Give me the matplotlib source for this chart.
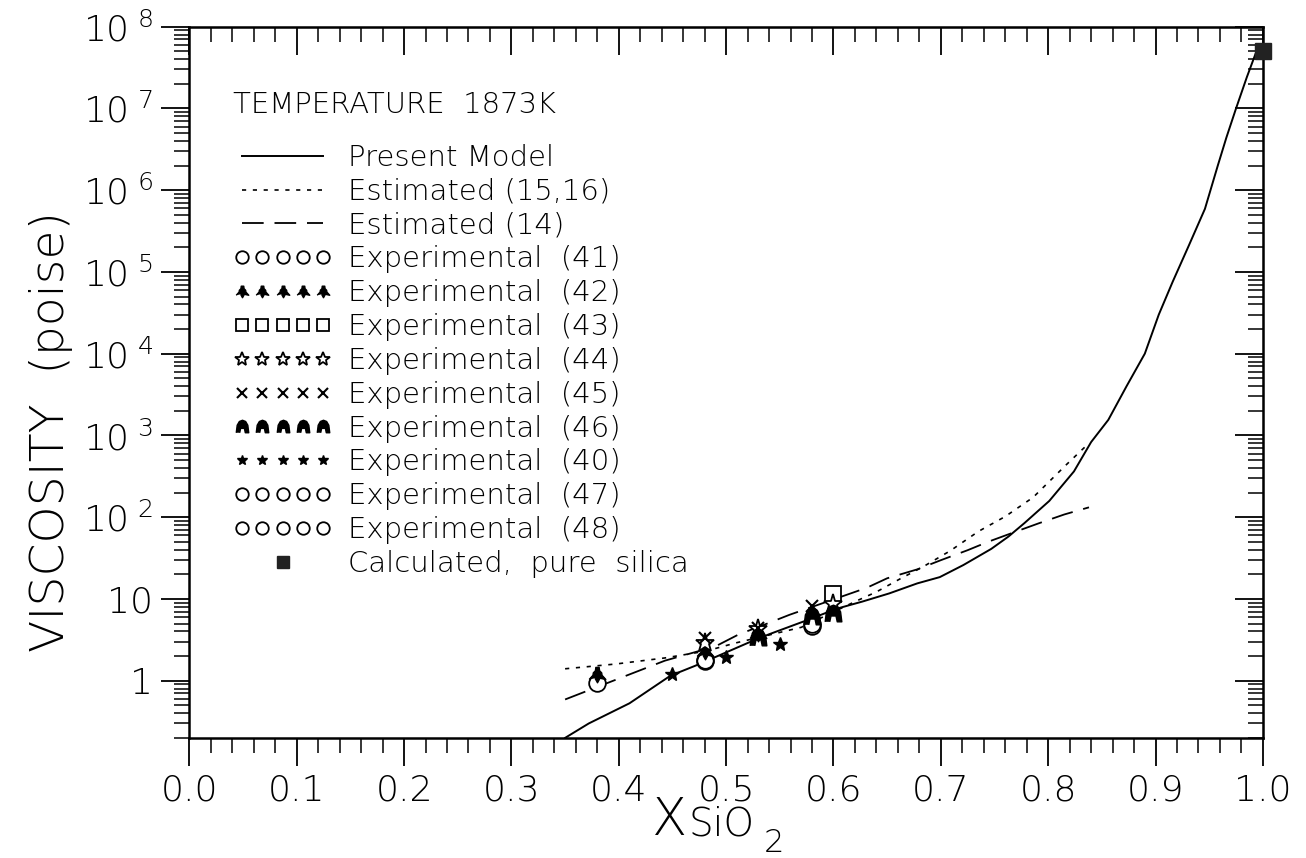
import matplotlib
matplotlib.use('Agg')
import matplotlib.pyplot as plt
from matplotlib.ticker import FixedLocator, MultipleLocator, LogLocator, NullFormatter
from matplotlib.legend_handler import HandlerLine2D

plt.rcParams['font.family'] = ['DejaVu Sans']
plt.rcParams['font.weight'] = 'light'
plt.rcParams['axes.labelweight'] = 'light'
plt.rcParams['mathtext.fontset'] = 'custom'
plt.rcParams['mathtext.rm'] = 'DejaVu Sans:light'

# present model, viscosity (poise) vs mole fraction SiO2
model_x = [0.35, 0.372, 0.41, 0.448, 0.471, 0.495, 0.521, 0.54, 0.577, 0.603, 0.627,
           0.652, 0.678, 0.699, 0.721, 0.747, 0.763, 0.778, 0.801, 0.824, 0.84,
           0.856, 0.873, 0.89, 0.903, 0.916, 0.931, 0.946, 0.958, 0.966, 0.975, 0.985, 0.993]
model_y = [0.2, 0.3, 0.53, 1.15, 1.52, 2.08, 2.93, 3.7, 5.6, 7.6, 9.3,
           11.7, 15.5, 18.5, 26, 41, 58, 85, 158, 363, 830,
           1550, 4000, 1.0e4, 3.0e4, 7.6e4, 2.1e5, 5.9e5, 2.0e6, 4.4e6, 1.0e7, 2.4e7, 4.6e7]

# estimated (15,16)
est1516_x = [0.35, 0.397, 0.443, 0.481, 0.509, 0.57, 0.621, 0.64, 0.662, 0.684,
             0.709, 0.735, 0.76, 0.786, 0.817, 0.836]
est1516_y = [1.4, 1.6, 1.9, 2.3, 2.9, 4.5, 9.4, 12.2, 17.6, 25,
             39, 67, 102, 175, 440, 760]

# estimated (14)
est14_x = [0.35, 0.399, 0.443, 0.49, 0.512, 0.533, 0.559, 0.631, 0.65, 0.678,
           0.7, 0.725, 0.744, 0.769, 0.791, 0.815, 0.838]
est14_y = [0.59, 1.05, 1.76, 2.63, 3.7, 4.7, 6.4, 13.7, 17.9, 23,
           29.8, 39.5, 50, 66, 84, 108, 132]

# experimental points
exp41_x = [0.38, 0.48, 0.58]
exp41_y = [0.95, 1.75, 4.7]
exp42_x = [0.38, 0.48, 0.53]
exp42_y = [1.2, 2.3, 3.8]
exp43_x = [0.60]
exp43_y = [11.5]
exp44_x = [0.48, 0.53, 0.60]
exp44_y = [2.9, 4.3, 8.8]
exp45_x = [0.48, 0.53, 0.58]
exp45_y = [3.3, 4.4, 8.2]
exp46_x = [0.53, 0.58, 0.60]
exp46_y = [3.4, 6.2, 6.7]
exp40_x = [0.45, 0.50, 0.55]
exp40_y = [1.2, 1.95, 2.85]
exp47_x = [0.58]
exp47_y = [5.0]
exp48_x = [0.48]
exp48_y = [1.8]

# calculated, pure silica
silica_x = [1.0]
silica_y = [5.0e7]

x_ticks = [0.0, 0.1, 0.2, 0.3, 0.4, 0.5, 0.6, 0.7, 0.8, 0.9, 1.0]
x_labels = ['0.0', '0.1', '0.2', '0.3', '0.4', '0.5', '0.6', '0.7', '0.8', '0.9', '1.0']
y_ticks = [1, 10, 1e2, 1e3, 1e4, 1e5, 1e6, 1e7, 1e8]
y_labels = ['1', '10'] + [r'$\mathregular{10^{\ %d}}$' % n for n in range(2, 9)]

# marker shapes: filled bell and filled arch
bell = [(-1.0, -0.6), (-0.55, -0.1), (-0.5, 0.2), (-0.25, 0.45), (-0.2, 0.85),
        (0.2, 0.85), (0.25, 0.45), (0.5, 0.2), (0.55, -0.1), (1.0, -0.6),
        (0.3, -0.45), (0.0, -1.0), (-0.3, -0.45)]
arch = [(-1, -1), (-0.85, 0.2), (-0.5, 0.8), (0, 1), (0.5, 0.8), (0.85, 0.2),
        (1, -1), (0.45, -1), (0.3, -0.3), (-0.3, -0.3), (-0.45, -1)]

fig = plt.figure(figsize=(13.06, 8.58), dpi=100)
ax = fig.add_axes([0.145, 0.14, 0.822, 0.829])

ms = 12
lines = []
lines.append(ax.plot(model_x, model_y, color='k', lw=1.4, label='Present Model')[0])
lines.append(ax.plot(est1516_x, est1516_y, color='k', lw=1.2, ls=(0, (2.5, 4)),
                     label='Estimated (15,16)')[0])
lines.append(ax.plot(est14_x, est14_y, color='k', lw=1.3, ls=(0, (12, 6)),
                     label='Estimated (14)')[0])
lines.append(ax.plot(exp41_x, exp41_y, 'o', ms=ms, mfc='white', mec='k', mew=1.3,
                     label='Experimental  (41)')[0])
lines.append(ax.plot(exp42_x, exp42_y, marker=bell, ls='none', ms=ms, color='k',
                     label='Experimental  (42)')[0])
lines.append(ax.plot(exp43_x, exp43_y, 's', ms=ms, mfc='white', mec='k', mew=1.3,
                     label='Experimental  (43)')[0])
lines.append(ax.plot(exp44_x, exp44_y, '*', ms=ms + 2, mfc='white', mec='k', mew=1.3,
                     label='Experimental  (44)')[0])
lines.append(ax.plot(exp45_x, exp45_y, 'x', ms=ms - 3, color='k', mew=1.5,
                     label='Experimental  (45)')[0])
lines.append(ax.plot(exp46_x, exp46_y, marker=arch, ls='none', ms=ms, color='k',
                     label='Experimental  (46)')[0])
lines.append(ax.plot(exp40_x, exp40_y, '*', ms=ms - 2, color='k',
                     label='Experimental  (40)')[0])
lines.append(ax.plot(exp47_x, exp47_y, 'o', ms=ms, mfc='none', mec='k', mew=1.3,
                     label='Experimental  (47)')[0])
lines.append(ax.plot(exp48_x, exp48_y, 'o', ms=ms, mfc='none', mec='k', mew=1.3,
                     label='Experimental  (48)')[0])
silica = ax.plot(silica_x, silica_y, 's', ms=11, color='#222222', clip_on=False,
                 zorder=5, label='Calculated,  pure  silica')[0]
lines.append(silica)

ax.set_xlim(0, 1)
ax.set_ylim(0.2, 1e8)
ax.set_yscale('log')

ax.set_xticks(x_ticks)
ax.set_xticklabels(x_labels)
ax.xaxis.set_minor_locator(MultipleLocator(0.02))
ax.yaxis.set_major_locator(FixedLocator(y_ticks))
ax.set_yticklabels(y_labels)
ax.yaxis.set_minor_locator(LogLocator(base=10, subs=range(2, 10), numticks=20))
ax.yaxis.set_minor_formatter(NullFormatter())

ax.tick_params(which='major', direction='out', length=20, width=1.3, labelsize=26, pad=6)
ax.tick_params(which='minor', direction='out', length=11, width=1.1)
for s in ax.spines.values():
    s.set_linewidth(1.8)

# inward ticks on top and right
top = ax.secondary_xaxis('top')
top.set_xticks(x_ticks)
top.xaxis.set_minor_locator(MultipleLocator(0.02))
top.tick_params(which='major', direction='in', length=20, width=1.3, labeltop=False)
top.tick_params(which='minor', direction='in', length=11, width=1.1)
right = ax.secondary_yaxis('right')
right.yaxis.set_major_locator(FixedLocator(y_ticks))
right.yaxis.set_minor_locator(LogLocator(base=10, subs=range(2, 10), numticks=20))
right.yaxis.set_minor_formatter(NullFormatter())
right.tick_params(which='major', direction='in', length=20, width=1.3, labelright=False)
right.tick_params(which='minor', direction='in', length=11, width=1.1)

ax.set_ylabel('VISCOSITY  (poise)', fontsize=34, fontweight='light')
ax.yaxis.set_label_coords(-0.108, 0.43)

# axis title: X, SiO and a lowered 2
ax.text(0.431, -0.137, 'X', transform=ax.transAxes, fontsize=37, va='baseline')
ax.text(0.465, -0.137, 'SiO', transform=ax.transAxes, fontsize=28, va='baseline')
ax.text(0.535, -0.16, '2', transform=ax.transAxes, fontsize=23, va='baseline')

leg = ax.legend(handles=lines, loc='upper left', bbox_to_anchor=(0.027, 0.93),
                frameon=False, fontsize=21, numpoints=5, markerscale=0.75,
                handlelength=3.4, handletextpad=0.55, labelspacing=0.2,
                title='TEMPERATURE  1873K', title_fontsize=21, alignment='left',
                borderpad=0, handler_map={silica: HandlerLine2D(numpoints=1)})
leg._legend_box.sep = 18

fig.savefig('out.png', dpi=100)
